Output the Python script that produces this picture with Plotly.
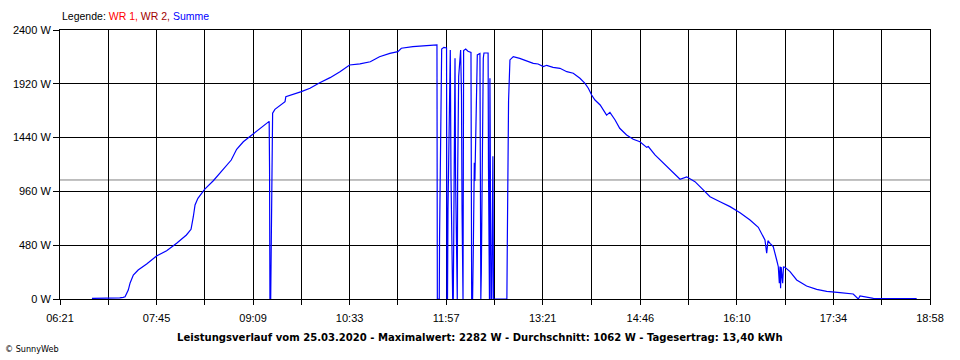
import datetime as dt
import plotly.graph_objects as go

DAY = "2020-03-25"

# time of day (HH:MM:SS) and total power "Summe" in W
times = [
    "06:48:48", "07:01:00", "07:13:00", "07:16:00", "07:17:36", "07:20:24", "07:22:00", "07:24:48",
    "07:29:00", "07:36:24", "07:45:00", "07:53:48", "08:02:30", "08:11:00", "08:15:00", "08:17:00",
    "08:18:30", "08:21:00", "08:27:00", "08:34:24", "08:43:00", "08:47:30", "08:50:00", "08:54:42",
    "09:00:30", "09:06:00", "09:13:30", "09:17:00", "09:20:48", "09:23:00", "09:23:20", "09:23:40",
    "09:24:20", "09:24:40", "09:25:20", "09:26:00", "09:28:00", "09:36:48", "09:37:30", "09:44:00",
    "09:51:00", "09:58:30", "10:07:00", "10:16:00", "10:24:36", "10:33:00", "10:42:00", "10:51:00",
    "10:59:00", "11:08:00", "11:15:00", "11:18:00", "11:28:00", "11:40:00", "11:47:00", "11:49:00",
    "11:49:20", "11:51:00", "11:51:15", "11:52:12", "11:53:06", "11:55:00", "11:57:20", "11:57:40",
    "11:58:10", "11:58:36", "11:59:48", "12:00:36", "12:01:12", "12:02:00", "12:02:40", "12:03:12",
    "12:04:00", "12:04:42", "12:05:10", "12:06:12", "12:06:40", "12:07:00", "12:07:54", "12:09:36",
    "12:10:20", "12:10:50", "12:11:10", "12:11:40", "12:12:12", "12:14:00", "12:16:00", "12:18:36",
    "12:19:12", "12:20:00", "12:20:36", "12:21:30", "12:22:00", "12:23:00", "12:24:06", "12:26:24",
    "12:26:42", "12:27:10", "12:27:36", "12:28:24", "12:29:18", "12:29:54", "12:33:30", "12:33:50",
    "12:34:12", "12:34:40", "12:35:06", "12:35:40", "12:36:00", "12:36:40", "12:37:06", "12:37:40",
    "12:38:12", "12:49:50", "12:50:12", "12:51:18", "12:52:30", "12:55:24", "13:01:00", "13:07:00",
    "13:12:48", "13:17:00", "13:21:30", "13:24:30", "13:30:00", "13:36:00", "13:42:00", "13:47:36",
    "13:53:24", "13:57:48", "14:00:42", "14:03:36", "14:06:30", "14:11:00", "14:13:42", "14:16:36",
    "14:19:30", "14:24:00", "14:28:00", "14:34:00", "14:39:48", "14:45:36", "14:51:30", "14:52:54",
    "14:58:42", "15:05:54", "15:13:12", "15:20:30", "15:26:18", "15:33:30", "15:40:42", "15:46:36",
    "15:55:18", "16:04:00", "16:12:42", "16:21:24", "16:28:36", "16:34:24", "16:35:54", "16:37:00",
    "16:38:48", "16:41:36", "16:44:36", "16:46:00", "16:46:54", "16:47:30", "16:48:00", "16:48:30",
    "16:49:48", "16:50:30", "16:51:48", "16:56:12", "17:02:00", "17:10:36", "17:19:24", "17:28:06",
    "17:39:42", "17:51:12", "17:55:36", "17:57:06", "18:08:42", "18:17:24", "18:46:24",
]

summe_w = [
    5, 5, 10, 15, 20, 80, 143, 214,
    259, 312, 384, 431, 497, 571, 622, 734,
    839, 898, 981, 1055, 1157, 1204, 1240, 1336,
    1403, 1448, 1508, 1537, 1573, 1585, 1170, 0,
    0, 288, 1314, 1657, 1692, 1761, 1805, 1826,
    1850, 1880, 1930, 1975, 2028, 2088, 2097, 2117,
    2162, 2192, 2207, 2237, 2252, 2260, 2266, 2268,
    0, 0, 539, 1860, 2231, 2245, 2240, 0,
    0, 800, 1950, 2222, 1096, 163, 0, 0,
    1600, 2148, 1111, 0, 0, 1111, 1985, 2222,
    1822, 785, 0, 0, 2216, 2230, 2210, 2200,
    0, 0, 415, 1215, 1052, 1800, 2178, 2190,
    0, 0, 237, 1644, 2148, 2195, 2195, 1170,
    0, 0, 1970, 741, 0, 0, 622, 1274,
    0, 0, 489, 1769, 2133, 2162, 2147, 2126,
    2103, 2097, 2073, 2085, 2067, 2058, 2028, 2014,
    1969, 1924, 1880, 1820, 1775, 1731, 1686, 1640,
    1665, 1597, 1523, 1463, 1425, 1403, 1353, 1360,
    1285, 1211, 1136, 1068, 1090, 1047, 973, 913,
    868, 824, 770, 705, 640, 526, 408, 520,
    497, 467, 348, 288, 140, 290, 95, 285,
    140, 285, 283, 244, 170, 116, 86, 68,
    56, 45, 0, 27, 6, 3, 3,
]

x_tick_labels = ["06:21", "07:45", "09:09", "10:33", "11:57", "13:21", "14:46", "16:10", "17:34", "18:58"]
y_tick_values = [0, 480, 960, 1440, 1920, 2400]
y_tick_labels = [f"{v} W" for v in y_tick_values]

average_w = 1062
max_w = 2282
yield_kwh = "13,40"
date_label = "25.03.2020"

assert len(times) == len(summe_w)

x_dates = [f"{DAY} {t}" for t in times]
tick_dates = [f"{DAY} {t}:00" for t in x_tick_labels]


def _p(s):
    return dt.datetime.strptime(s, "%Y-%m-%d %H:%M:%S")


# minor gridlines half way between the labelled ticks
tick_dt = [_p(s) for s in tick_dates]
minor_dates = [(a + (b - a) / 2).strftime("%Y-%m-%d %H:%M:%S") for a, b in zip(tick_dt[:-1], tick_dt[1:])]

FONT = "Liberation Sans, Arial, sans-serif"

fig = go.Figure()
fig.add_trace(go.Scatter(
    x=x_dates, y=summe_w, mode="lines", name="Summe",
    line=dict(color="#0000FF", width=1.2),
    hoverinfo="x+y",
))

fig.add_shape(type="line", xref="paper", x0=0, x1=1, yref="y", y0=average_w, y1=average_w,
              line=dict(color="#808080", width=1), layer="between")

fig.update_layout(
    width=960, height=360,
    margin=dict(l=60, r=30, t=30, b=61),
    paper_bgcolor="white", plot_bgcolor="white",
    showlegend=False,
    font=dict(family=FONT, size=11, color="black"),
    xaxis=dict(
        type="date",
        range=[tick_dates[0], tick_dates[-1]],
        tickmode="array", tickvals=tick_dates, ticktext=x_tick_labels,
        ticks="outside", ticklen=5, tickwidth=1, tickcolor="black",
        ticklabelstandoff=4,
        showgrid=True, gridcolor="black", gridwidth=1,
        showline=True, linecolor="black", linewidth=1, mirror=True,
        zeroline=False,
        tickfont=dict(family=FONT, size=11, color="black"),
        minor=dict(tickmode="array", tickvals=minor_dates, ticks="outside", ticklen=5,
                   tickcolor="black", tickwidth=1, showgrid=True, gridcolor="black", gridwidth=1),
    ),
    yaxis=dict(
        range=[0, 2400],
        tickmode="array", tickvals=y_tick_values, ticktext=y_tick_labels,
        ticks="outside", ticklen=6, tickwidth=1, tickcolor="black",
        showgrid=True, gridcolor="black", gridwidth=1,
        showline=True, linecolor="black", linewidth=1, mirror=True,
        zeroline=False,
        tickfont=dict(family=FONT, size=11, color="black"),
    ),
)

fig.add_annotation(
    xref="paper", yref="paper", x=0, y=1, yshift=6, xanchor="left", yanchor="bottom",
    text=("Legende: <span style='color:#FF0000'>WR 1,</span> "
          "<span style='color:#A00000'>WR 2,</span> "
          "<span style='color:#0000FF'>Summe</span>"),
    showarrow=False, font=dict(family=FONT, size=10.5, color="black"),
)

title = (f"Leistungsverlauf vom {date_label} - Maximalwert: {max_w} W - "
         f"Durchschnitt: {average_w} W - Tagesertrag: {yield_kwh} kWh")
fig.add_annotation(
    xref="paper", yref="paper", x=0.483, y=0, yshift=-38, xanchor="center", yanchor="middle",
    text=f"<b>{title}</b>", showarrow=False,
    font=dict(family="Liberation Sans Narrow, DejaVu Sans Condensed, Arial Narrow, sans-serif",
              size=11.2, color="black"),
)

fig.add_annotation(
    xref="paper", yref="paper", x=-60 / 870, xshift=3, y=0, yshift=-50, xanchor="left", yanchor="middle",
    text="© SunnyWeb", showarrow=False,
    font=dict(family="Liberation Sans Narrow, DejaVu Sans Condensed, sans-serif", size=9, color="black"),
)

fig.write_html(
    "out.html",
    config={"displayModeBar": False},
    post_script="document.body.style.margin='0';document.body.style.overflow='hidden';",
)
